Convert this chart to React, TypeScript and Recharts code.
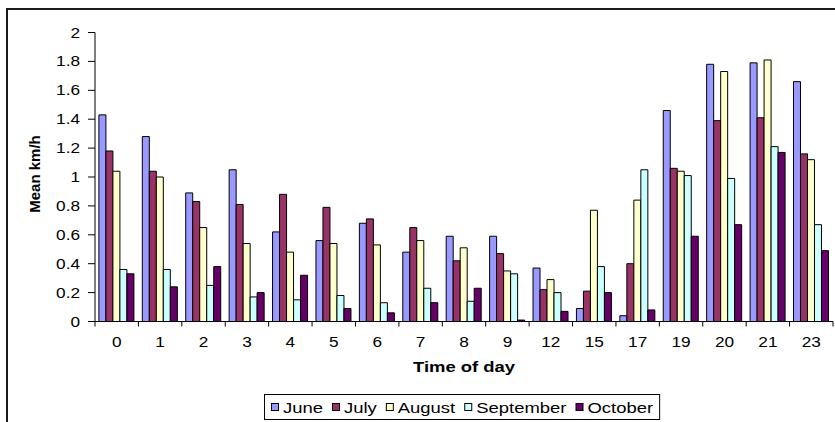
import React from 'react';
import { BarChart, Bar, XAxis, YAxis, Legend, Label } from 'recharts';

const hours = ['0', '1', '2', '3', '4', '5', '6', '7', '8', '9', '12', '15', '17', '19', '20', '21', '23'];
const june = [1.43, 1.28, 0.89, 1.05, 0.62, 0.56, 0.68, 0.48, 0.59, 0.59, 0.37, 0.09, 0.04, 1.46, 1.78, 1.79, 1.66];
const july = [1.18, 1.04, 0.83, 0.81, 0.88, 0.79, 0.71, 0.65, 0.42, 0.47, 0.22, 0.21, 0.4, 1.06, 1.39, 1.41, 1.16];
const august = [1.04, 1.0, 0.65, 0.54, 0.48, 0.54, 0.53, 0.56, 0.51, 0.35, 0.29, 0.77, 0.84, 1.04, 1.73, 1.81, 1.12];
const september = [0.36, 0.36, 0.25, 0.17, 0.15, 0.18, 0.13, 0.23, 0.14, 0.33, 0.2, 0.38, 1.05, 1.01, 0.99, 1.21, 0.67];
const october = [0.33, 0.24, 0.38, 0.2, 0.32, 0.09, 0.06, 0.13, 0.23, 0.01, 0.07, 0.2, 0.08, 0.59, 0.67, 1.17, 0.49];
const yTicks = [0, 0.2, 0.4, 0.6, 0.8, 1, 1.2, 1.4, 1.6, 1.8, 2];

const seriesKeys = ['June', 'July', 'August', 'September', 'October'];
const seriesValues = [june, july, august, september, october];
const seriesColors = ['#9999FF', '#993366', '#FFFFCC', '#CCFFFF', '#660066'];

const data = hours.map((h, i) => {
  const row: Record<string, string | number> = { hour: h };
  seriesKeys.forEach((k, s) => {
    row[k] = seriesValues[s][i];
  });
  return row;
});

const W = 835;
const H = 422;
const FONT = '"Liberation Sans", Arial, Helvetica, sans-serif';
const SX = 1.23;
const MARGIN = { top: 32.5, right: 2, left: 0, bottom: 14.5 };
const Y_AXIS_W = 95;
const PLOT_W = W - Y_AXIS_W - MARGIN.left - MARGIN.right;

let ctx: CanvasRenderingContext2D | null = null;
function measure(text: string, font: string): number {
  if (!ctx) ctx = document.createElement('canvas').getContext('2d');
  if (!ctx) return text.length * 8;
  ctx.font = font;
  return ctx.measureText(text).width;
}

const XTick = (props: any) => {
  const { x, y, payload, index } = props;
  const half = payload && payload.offset ? payload.offset : PLOT_W / hours.length / 2;
  return (
    <g>
      <line x1={x - half} x2={x - half} y1={y} y2={y + 5} stroke="#000" strokeWidth={1} />
      {index === hours.length - 1 && (
        <line x1={x + half} x2={x + half} y1={y} y2={y + 5} stroke="#000" strokeWidth={1} />
      )}
      <text
        transform={`translate(${x},${y + 25}) scale(${SX},1)`}
        textAnchor="middle"
        fontFamily={FONT}
        fontSize={14}
        fill="#000"
      >
        {payload.value}
      </text>
    </g>
  );
};

const YTick = (props: any) => {
  const { x, y, payload } = props;
  return (
    <text
      transform={`translate(${x},${y}) scale(${SX},1)`}
      textAnchor="end"
      dy="0.36em"
      fontFamily={FONT}
      fontSize={14}
      fill="#000"
    >
      {String(payload.value)}
    </text>
  );
};

const XTitle = (props: any) => {
  const vb = props.viewBox || {};
  const cx = vb.x + vb.width / 2;
  return (
    <text
      transform={`translate(${cx},${vb.y + 50}) scale(${SX},1)`}
      textAnchor="middle"
      fontFamily={FONT}
      fontSize={15}
      fontWeight="bold"
      fill="#000"
    >
      Time of day
    </text>
  );
};

const YTitle = (props: any) => {
  const vb = props.viewBox || {};
  const cy = vb.y + vb.height / 2 - 3;
  return (
    <text
      transform={`translate(34.5,${cy}) rotate(-90)`}
      textAnchor="middle"
      dominantBaseline="central"
      fontFamily={FONT}
      fontSize={15}
      fontWeight="bold"
      fill="#000"
    >
      Mean km/h
    </text>
  );
};

const LEG_FONT = `15px ${FONT}`;
const LegendBox = (props: any) => {
  const payload: any[] = [...(props.payload || [])].sort(
    (a, b) => seriesKeys.indexOf(String(a.value)) - seriesKeys.indexOf(String(b.value))
  );
  const pad = 7;
  const mark = 7;
  const gapMT = 5;
  const gapItem = 9;
  let x = pad;
  const items = payload.map((p, i) => {
    const label = String(p.value);
    const tw = measure(label, LEG_FONT) * SX;
    const mx = x;
    const tx = x + mark + gapMT;
    x = tx + tw + (i < payload.length - 1 ? gapItem : 0);
    return { label, color: p.color, mx, tx };
  });
  const boxW = x + pad;
  const boxH = 26;
  const center = MARGIN.left + Y_AXIS_W + PLOT_W / 2 - 1.5;
  return (
    <div style={{ position: 'relative', width: W, height: boxH }}>
      <svg
        width={boxW}
        height={boxH}
        style={{ position: 'absolute', left: center - boxW / 2, top: 0, display: 'block' }}
      >
        <rect x={0.5} y={0.5} width={boxW - 1} height={boxH - 1} fill="#fff" stroke="#000" strokeWidth={1} />
        {items.map((it) => (
          <g key={it.label}>
            <rect x={it.mx + 0.5} y={9.5} width={mark} height={mark} fill={it.color} stroke="#000" strokeWidth={1} />
            <text
              transform={`translate(${it.tx},18.5) scale(${SX},1)`}
              fontFamily={FONT}
              fontSize={15}
              fill="#000"
            >
              {it.label}
            </text>
          </g>
        ))}
      </svg>
    </div>
  );
};

export default function App() {
  return (
    <div
      style={{
        position: 'absolute',
        left: 0,
        top: 0,
        width: W,
        height: H,
        overflow: 'hidden',
        background: '#fff',
      }}
    >
      <div
        style={{
          position: 'absolute',
          left: 6,
          top: 8,
          width: 900,
          height: 500,
          borderLeft: '2px solid #1a1a1a',
          borderTop: '2px solid #1a1a1a',
        }}
      />
      <div style={{ position: 'absolute', left: 0, top: 0 }}>
        <BarChart
          width={W}
          height={H}
          data={data}
          margin={MARGIN}
          barCategoryGap="9%"
          barGap={0}
        >
          <XAxis
            dataKey="hour"
            height={60}
            interval={0}
            tickLine={false}
            tickSize={0}
            tickMargin={0}
            axisLine={{ stroke: '#000', strokeWidth: 1 }}
            tick={<XTick />}
          >
            <Label content={<XTitle />} />
          </XAxis>
          <YAxis
            width={Y_AXIS_W}
            domain={[0, 2]}
            ticks={yTicks}
            interval={0}
            tickSize={7}
            tickMargin={8}
            tickLine={{ stroke: '#000', strokeWidth: 1 }}
            axisLine={{ stroke: '#000', strokeWidth: 1 }}
            tick={<YTick />}
          >
            <Label content={<YTitle />} />
          </YAxis>
          <Legend
            verticalAlign="bottom"
            itemSorter={(item: any) => seriesKeys.indexOf(String(item.value))}
            content={<LegendBox />}
            wrapperStyle={{ left: 0, top: 394, bottom: 'auto', width: W, height: 26 }}
          />
          {seriesKeys.map((k, i) => (
            <Bar
              key={k}
              dataKey={k}
              name={k}
              fill={seriesColors[i]}
              stroke="#000"
              strokeWidth={1}
              isAnimationActive={false}
            />
          ))}
        </BarChart>
      </div>
    </div>
  );
}
